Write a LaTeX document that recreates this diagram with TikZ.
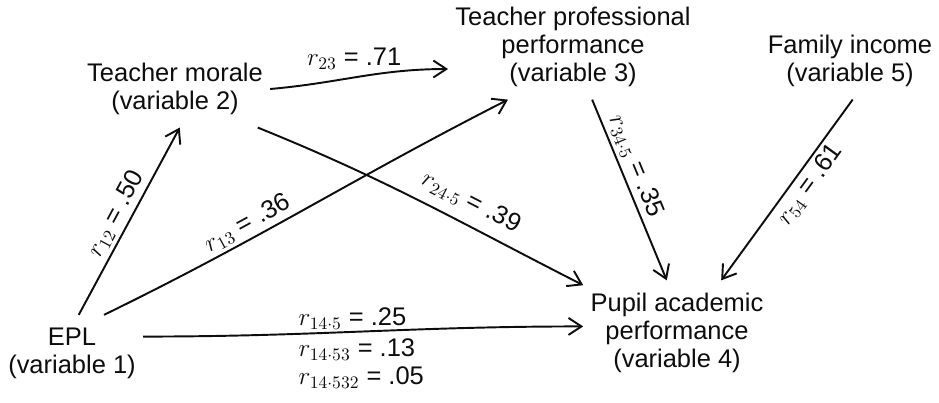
\documentclass[tikz,border=0pt]{standalone}
\usepackage{fontspec}
\setmainfont{Liberation Sans}
\usetikzlibrary{arrows.meta}
\definecolor{PathInk}{gray}{0.05}
\tikzset{
  diagram/.style={font=\fontsize{14.5}{16}\selectfont,text=PathInk,
    >={Straight Barb[length=2.6mm,width=3.4mm]}},
  factor/.style={align=center,inner xsep=4pt,inner ysep=7pt},
  link/.style={->,line width=1.1pt,draw=PathInk},
  coef/.style={inner sep=2pt},
}

\begin{document}
\begin{tikzpicture}[diagram]
  \useasboundingbox (0,0) rectangle (18.78,8.06);

  \node[factor] (morale) at (3.50,6.28) {Teacher morale\\(variable 2)};
  \node[factor] (perform) at (11.46,7.12) {Teacher professional\\performance\\(variable 3)};
  \node[factor] (income) at (17.00,6.84) {Family income\\(variable 5)};
  \node[factor] (epl) at (1.44,1.00) {EPL\\(variable 1)};
  \node[factor] (pupil) at (13.54,1.40) {Pupil academic\\performance\\(variable 4)};

  \draw[link] (epl.80) -- (morale.-83)
    node[coef,midway,sloped,above] {$r_{12}$ = .50};
  \draw[link] (epl.50) to[out=26,in=207]
    node[coef,pos=0.36,sloped,above] {$r_{13}$ = .36} (perform.219);
  \draw[link] (morale.east) to[out=5,in=180]
    node[coef,pos=0.47,above=2pt] {$r_{23}$ = .71} (perform.190);
  \draw[link] (morale.-25) to[out=-22,in=153]
    node[coef,pos=0.63,sloped,above=4pt] {$r_{24\cdot5}$ = .39} (pupil.153);
  \draw[link] (epl.13) to[out=0,in=180]
    node[coef,pos=0.33,anchor=south west] {$r_{14\cdot5}$ = .25}
    node[coef,pos=0.33,anchor=north west,align=left] {$r_{14\cdot53}$ = .13\\$r_{14\cdot532}$ = .05}
    (pupil.176);
  \draw[link] (perform.-70) -- (pupil.101)
    node[coef,pos=0.4,sloped,above] {$r_{34\cdot5}$ = .35};
  \draw[link] (income.-86) -- (pupil.50)
    node[coef,pos=0.42,sloped,below] {$r_{54}$ = .61};
\end{tikzpicture}
\end{document}
